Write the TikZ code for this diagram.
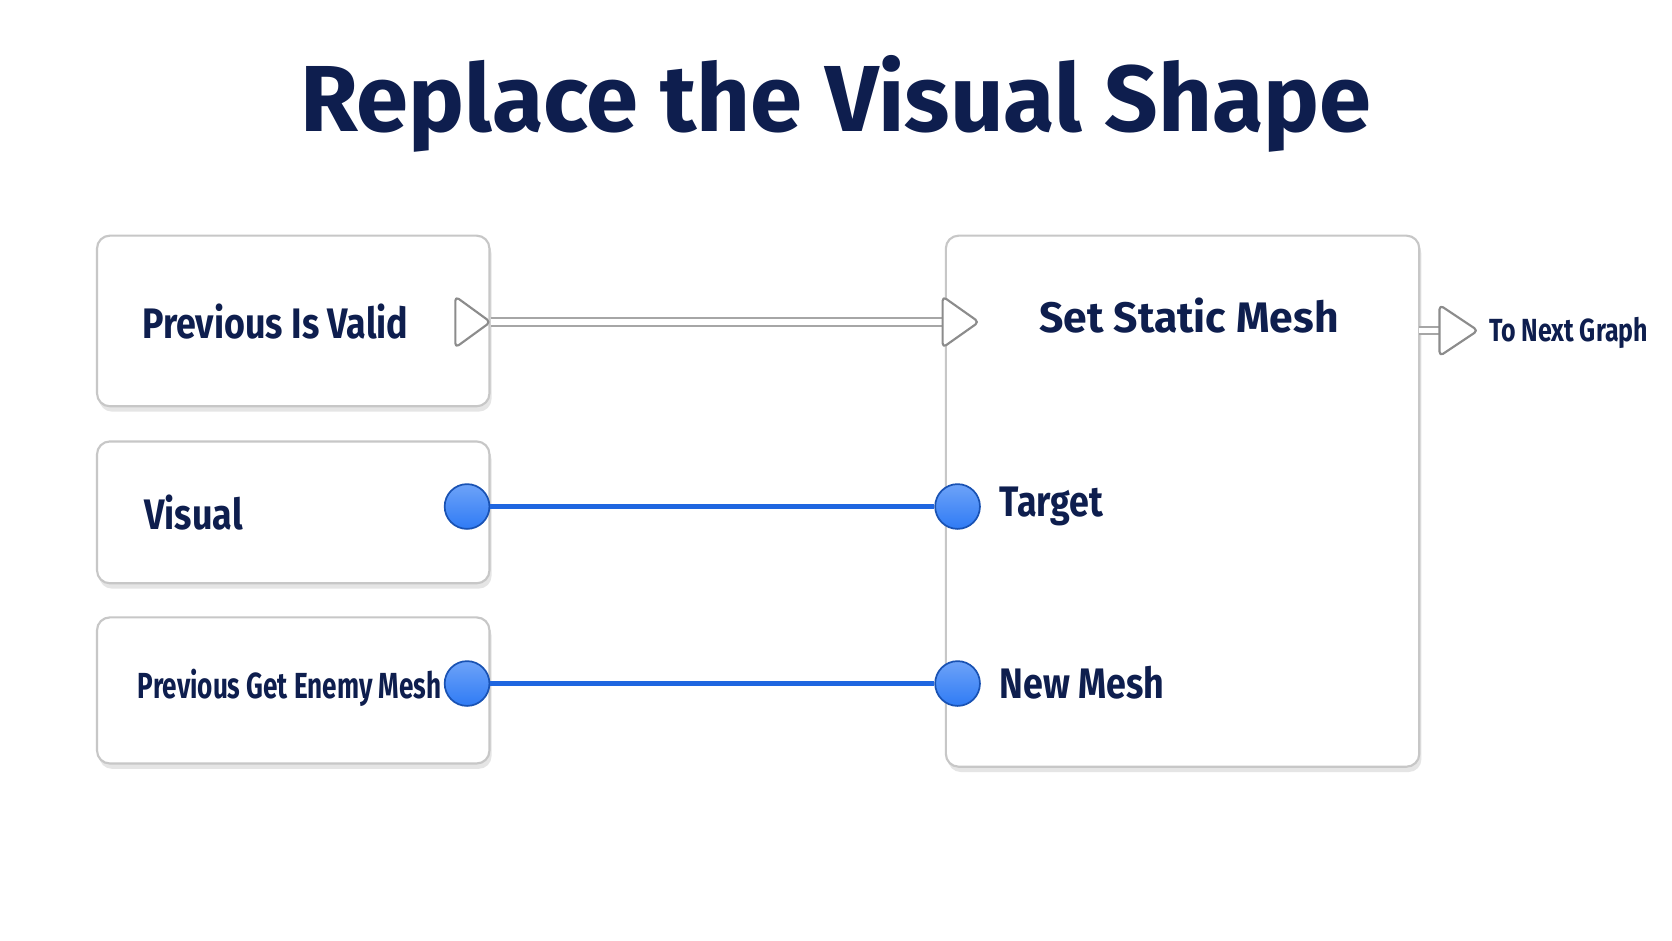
\documentclass[tikz,border=0pt]{standalone}
\usepackage{fontspec}
\setmainfont{Fira Sans}
\begin{document}
\begin{tikzpicture}[x=0.5pt,y=-0.5pt,
 box/.style={draw=black!22,line width=1pt,rounded corners=6pt,fill=white},
 shadow/.style={fill=black!10,rounded corners=6pt},
 txt/.style={text=navy,font=\bfseries\fontsize{20}{24}\selectfont,inner sep=0pt},
 pin/.style={circle,minimum size=21pt,inner sep=0pt,draw=wireblue!80!black,line width=0.8pt,top color=pinblue!70!white,bottom color=pinblue},
 wire/.style={draw=wireblue,line width=2.2pt},
 tri/.style={draw=black!45,fill=white,line width=1pt,line join=round,rounded corners=2pt}]
\definecolor{navy}{HTML}{0E1E4E}
\definecolor{pinblue}{HTML}{2F7BF5}
\definecolor{wireblue}{HTML}{1F66E0}
\useasboundingbox (0,0) rectangle (1568,882);
\fill[white] (0,0) rectangle (1568,882);
\node[text=navy,font=\bfseries\fontsize{44}{52}\selectfont,inner sep=0pt] (title) at (784,97) {Replace the Visual Shape};
\foreach \a/\b/\c/\d in {91/221/459/381,91/414/459/547,91/579/459/716,887/221/1331/719}
  \fill[shadow] (\a+2,\b+5) rectangle (\c+2,\d+5);
\draw[box] (91,221) rectangle (459,381);
\draw[box] (91,414) rectangle (459,547);
\draw[box] (91,579) rectangle (459,716);
\draw[box] (887,221) rectangle (1331,719);
\node[txt,anchor=west] (t1) at (133,302) {\scalebox{0.84}[1]{Previous Is Valid}};
\node[txt,anchor=west] (t2) at (135,481) {\scalebox{0.84}[1]{Visual}};
\node[txt,anchor=west,font=\bfseries\fontsize{17}{20}\selectfont] (t3) at (129,645) {\scalebox{0.72}[1]{Previous Get Enemy Mesh}};
\node[txt] (t4) at (1115,296) {\scalebox{1.0}[1]{Set Static Mesh}};
\node[txt,anchor=west] (t5) at (937,475) {\scalebox{0.84}[1]{Target}};
\node[txt,anchor=west] (t6) at (937,640) {\scalebox{0.84}[1]{New Mesh}};
\node[txt,anchor=west,font=\bfseries\fontsize{15}{18}\selectfont] (t7) at (1396,312) {\scalebox{0.78}[1]{To Next Graph}};
\coordinate (e1) at (427,302); \coordinate (e2) at (884,302); \coordinate (e3) at (1350,310);
\draw[black!35,line width=4.5pt] (460,302) -- (e2);
\draw[white,line width=2.5pt] (460,302) -- (e2);
\draw[black!35,line width=4.5pt] (1331,310) -- (e3);
\draw[white,line width=2.5pt] (1331,310) -- (e3);
\draw[tri] (e1) -- ++(0,-24) -- ++(33,24) -- ++(-33,24) -- cycle;
\draw[tri] (e2) -- ++(0,-24) -- ++(34,24) -- ++(-34,24) -- cycle;
\draw[tri] (e3) -- ++(0,-24) -- ++(36,24) -- ++(-36,24) -- cycle;
\node[pin] (p1) at (438,475) {};
\node[pin] (p2) at (898,475) {};
\node[pin] (p3) at (438,641) {};
\node[pin] (p4) at (898,641) {};
\draw[wire] (p1) -- (p2);
\draw[wire] (p3) -- (p4);
\end{tikzpicture}
\end{document}
